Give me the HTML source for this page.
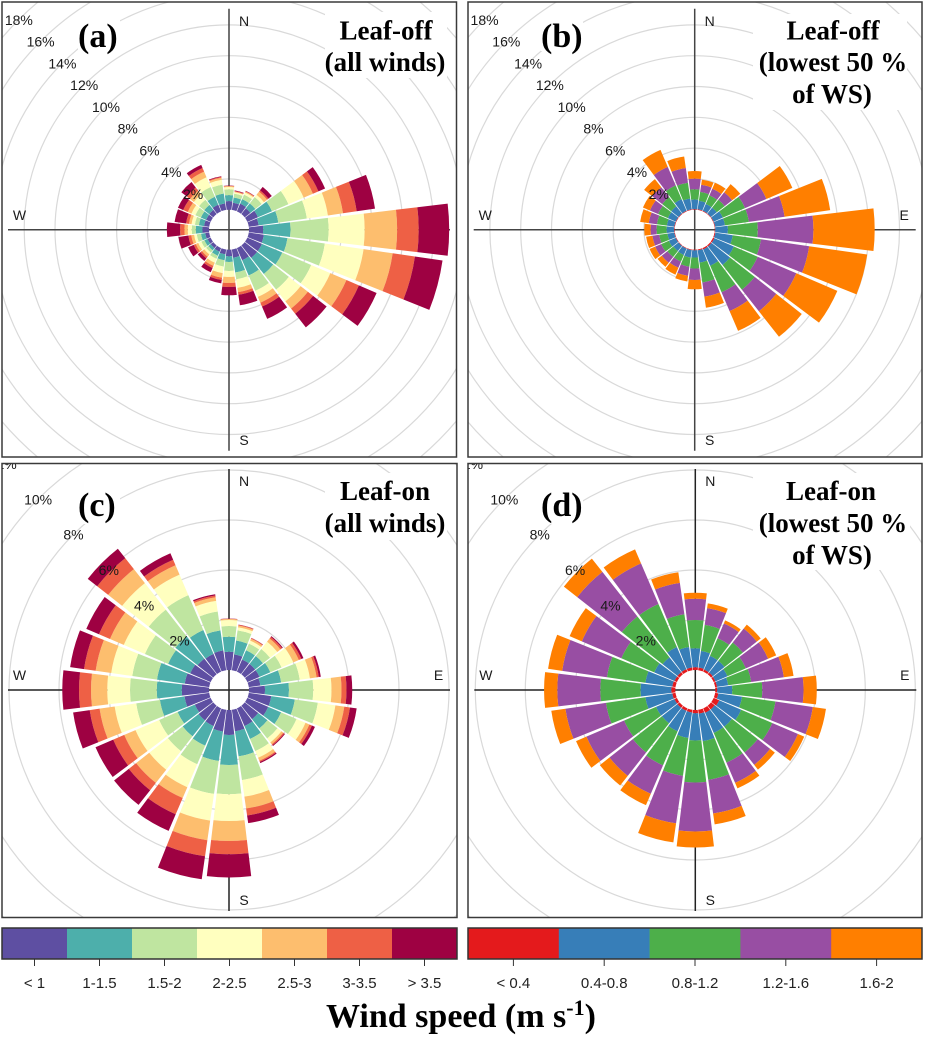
<!DOCTYPE html>
<html lang="en">
<head>
<meta charset="utf-8">
<title>Wind roses, leaf-off and leaf-on</title>
<style>
  html, body { margin: 0; padding: 0; background: #fff; }
  svg { display: block; filter: blur(0.3px); }
  .pct, .dir { font-family: "Liberation Sans", sans-serif; font-size: 14px; fill: #1a1a1a; }
  .title { font-family: "Liberation Serif", serif; font-weight: bold; font-size: 27px; fill: #000; text-anchor: middle; }
  .tag { font-family: "Liberation Serif", serif; font-weight: bold; font-size: 34px; fill: #000; }
  .legend-label { font-family: "Liberation Sans", sans-serif; font-size: 15px; fill: #222; text-anchor: middle; }
</style>
</head>
<body>
<svg id="figure" width="926" height="1037" viewBox="0 0 926 1037" xmlns="http://www.w3.org/2000/svg">
  <defs>
    <clipPath id="clip-a"><rect x="2" y="2" width="454.5" height="455"/></clipPath>
    <clipPath id="clip-b"><rect x="468" y="2" width="454" height="455"/></clipPath>
    <clipPath id="clip-c"><rect x="2" y="463.5" width="455" height="454"/></clipPath>
    <clipPath id="clip-d"><rect x="468" y="463.5" width="454" height="454"/></clipPath>
  </defs>
  <rect x="0" y="0" width="926" height="1037" fill="#fff"/>
  <g id="rings-layer"></g>
  <g id="masks-layer" fill="#fff">
    <rect x="78" y="15" width="42" height="36"/>
    <rect x="325" y="12" width="122" height="66"/>
    <rect x="541" y="15" width="42" height="36"/>
    <rect x="753" y="14" width="154" height="96"/>
    <rect x="78" y="486" width="42" height="38"/>
    <rect x="325" y="473" width="122" height="67"/>
    <rect x="541" y="486" width="42" height="38"/>
    <rect x="753" y="473" width="157" height="97"/>
  </g>
  <g id="plots-layer"></g>

  <g>
    <text class="tag" x="78" y="47">(a)</text>
    <text class="title" x="386" y="39.5">Leaf-off</text>
    <text class="title" x="385" y="71">(all winds)</text>
  </g>
  <g>
    <text class="tag" x="541" y="47">(b)</text>
    <text class="title" x="833" y="39.5">Leaf-off</text>
    <text class="title" x="833" y="71">(lowest 50 %</text>
    <text class="title" x="832" y="103">of WS)</text>
  </g>
  <g>
    <text class="tag" x="78" y="516">(c)</text>
    <text class="title" x="385" y="500">Leaf-on</text>
    <text class="title" x="385" y="532">(all winds)</text>
  </g>
  <g>
    <text class="tag" x="541" y="516">(d)</text>
    <text class="title" x="831" y="500">Leaf-on</text>
    <text class="title" x="833" y="532">(lowest 50 %</text>
    <text class="title" x="832" y="564">of WS)</text>
  </g>

  <g fill="none" stroke="#3a3a3a" stroke-width="1.5">
    <rect x="2" y="2" width="454.5" height="455"/>
    <rect x="468" y="2" width="454" height="455"/>
    <rect x="2" y="463.5" width="455" height="454"/>
    <rect x="468" y="463.5" width="454" height="454"/>
  </g>

  <g id="legend-layer"></g>

  <text x="461" y="1027" text-anchor="middle" font-family="'Liberation Serif', serif" font-weight="bold" font-size="34" fill="#000">Wind speed (m s<tspan dy="-12" font-size="22">-1</tspan><tspan dy="12">)</tspan></text>
</svg>

<script>
// Wind directions in degrees clockwise from north
const directions = [0,15,30,45,60,75,90,105,120,135,150,165,180,195,210,225,240,255,270,285,300,315,330,345];

// Speed classes
const allWindClasses = ['< 1','1-1.5','1.5-2','2-2.5','2.5-3','3-3.5','> 3.5'];
const lowWindClasses = ['< 0.4','0.4-0.8','0.8-1.2','1.2-1.6','1.6-2'];

// Radial tick labels (percent)
const leafOffPercentTicks = [2,4,6,8,10,12,14,16,18];
const leafOnPercentTicks = [2,4,6,8,10,12];

// Frequency (%) per direction (rows follow `directions`), per speed class (columns)
const panelAFrequencies = [
  [.56,.39,.37,.15,.06,.02,.02],
  [.47,.34,.26,.09,.04,.04,.04],
  [.54,.32,.32,.15,.06,.04,.02],
  [.47,.41,.52,.19,.26,.11,.28],
  [.75,.99,1.16,1.08,.65,.39,.47],
  [.65,1.29,1.87,1.38,.99,.90,1.20],
  [.92,1.78,2.47,2.34,2.11,1.40,1.98],
  [.99,1.55,2.45,2.54,1.91,1.46,1.81],
  [1.03,1.44,2.04,1.35,1.14,.88,1.25],
  [1.03,1.33,1.29,.97,.60,.43,1.12],
  [.86,1.08,1.08,.43,.41,.28,.86],
  [.54,.97,.45,.56,.28,.17,.69],
  [.43,.37,.58,.39,.39,.26,.54],
  [.32,.39,.41,.43,.30,.15,.22],
  [.26,.28,.22,.28,.22,.15,.30],
  [.22,.19,.19,.15,.19,.13,.22],
  [.22,.22,.22,.22,.17,.15,.39],
  [.26,.28,.28,.17,.19,.19,.65],
  [.43,.43,.26,.26,.22,.28,.86],
  [.34,.34,.26,.22,.17,.19,.75],
  [.32,.37,.39,.28,.26,.32,.37],
  [.34,.41,.43,.43,.32,.26,.45],
  [.47,.56,.69,.69,.39,.26,.22],
  [.43,.65,.58,.32,.13,.06,.04]
];
const panelBFrequencies = [
  [.04,.62,.67,.69,.49],
  [.04,.56,.58,.47,.34],
  [.04,.49,.60,.47,.43],
  [.04,.49,.65,.62,.67],
  [.04,.65,1.57,1.51,1.83],
  [.04,.65,1.57,2.34,2.99],
  [.04,.82,1.94,3.61,3.98],
  [.06,1.14,1.85,3.16,3.81],
  [.09,1.38,1.68,2.73,2.90],
  [.09,1.53,2.04,1.78,2.11],
  [.09,1.16,1.87,1.33,1.40],
  [.06,.80,1.31,.92,.73],
  [.04,.47,.71,.75,.60],
  [.04,.49,.60,.60,.37],
  [.04,.45,.47,.43,.49],
  [.04,.43,.49,.47,.34],
  [.04,.49,.54,.43,.39],
  [.04,.45,.54,.45,.41],
  [.04,.49,.65,.39,.41],
  [.04,.49,.65,.54,.56],
  [.04,.56,.69,.58,.49],
  [.04,.60,.75,.82,.67],
  [.04,.82,.97,1.31,1.20],
  [.04,.71,1.03,.97,.75]
];
const panelCFrequencies = [
  [.73,.60,.43,.24,.04,.01,.01],
  [.64,.56,.41,.12,.07,.03,.01],
  [.53,.40,.29,.13,.08,.03,.01],
  [.53,.40,.36,.37,.16,.08,.04],
  [.53,.47,.49,.51,.24,.11,.09],
  [.47,.84,.75,.41,.27,.09,.08],
  [.64,.96,.97,.73,.40,.20,.23],
  [.91,.95,.93,.71,.36,.23,.27],
  [.91,.56,.67,.39,.17,.11,.13],
  [.69,.47,.51,.20,.09,.05,.04],
  [.77,.56,.53,.29,.13,.05,.05],
  [.87,1.01,.96,.67,.48,.28,.31],
  [1.00,1.20,1.17,1.07,.80,.53,.93],
  [.88,1.19,1.33,1.08,.79,.65,.93],
  [.77,.85,.81,1.00,.47,.71,.72],
  [.75,.81,.75,.95,.67,.37,.75],
  [.69,.75,.80,1.03,.49,.48,.77],
  [1.00,.99,.96,.87,.61,.40,.67],
  [1.09,1.00,1.07,.91,.65,.48,.67],
  [.99,1.12,1.00,.85,.63,.47,.56],
  [.89,.96,1.01,.92,.60,.48,.55],
  [.80,1.13,1.36,1.35,.71,.56,.48],
  [.77,1.04,1.52,.89,.41,.24,.28],
  [.80,.81,.76,.43,.15,.07,.05]
];
const panelDFrequencies = [
  [.11,.76,1.13,.85,.24],
  [.11,.67,1.05,.68,.19],
  [.09,.60,.77,.64,.13],
  [.09,.60,.93,.71,.20],
  [.08,.52,.80,.97,.35],
  [.08,.45,.93,1.32,.39],
  [.08,.60,1.20,1.65,.53],
  [.13,.96,1.35,1.51,.53],
  [.24,.96,1.35,1.12,.27],
  [.19,.88,1.31,.63,.24],
  [.19,.88,1.29,.88,.24],
  [.16,1.11,1.56,1.36,.44],
  [.13,1.09,1.68,1.96,.64],
  [.11,1.03,1.53,1.92,.77],
  [.11,.89,1.48,1.24,.49],
  [.11,.79,1.48,1.19,.49],
  [.11,.80,1.39,1.64,.45],
  [.13,1.09,1.59,1.64,.57],
  [.16,1.23,1.61,1.72,.53],
  [.13,1.09,1.55,1.81,.57],
  [.11,.88,1.43,1.72,.53],
  [.11,.76,2.07,2.27,.68],
  [.11,.96,1.87,1.77,.61],
  [.11,.83,1.32,1.27,.43]
];

const spectralPalette = ['#5E4FA2','#4DAFAB','#BFE5A0','#FFFFBF','#FDBE6E','#EE6045','#9E0142'];
const set1Palette = ['#E41A1C','#377EB8','#4DAF4A','#984EA3','#FF7F00'];
const compassLabels = ['N','E','S','W'];

const SVG_NS = 'http://www.w3.org/2000/svg';
const HOLE_RADIUS = 20;
const AXIS_LENGTH = 221;
const WEDGE_HALF_ANGLE = 6.8;
const TEXT_OPTICAL_SHIFT = 1.5;

function el(tag, attrs, parent) {
  const node = document.createElementNS(SVG_NS, tag);
  for (const key in attrs) node.setAttribute(key, attrs[key]);
  parent.appendChild(node);
  return node;
}

function polar(panel, deg, r) {
  const t = deg * Math.PI / 180;
  return [panel.cx + r * Math.sin(t), panel.cy - r * Math.cos(t)];
}

function radius(panel, percent) {
  return HOLE_RADIUS + percent * panel.pxPerPercent;
}

function sectorPath(panel, deg, r0, r1) {
  const a0 = deg - WEDGE_HALF_ANGLE;
  const a1 = deg + WEDGE_HALF_ANGLE;
  const p1 = polar(panel, a0, r0);
  const p2 = polar(panel, a0, r1);
  const p3 = polar(panel, a1, r1);
  const p4 = polar(panel, a1, r0);
  return 'M' + p1[0].toFixed(2) + ' ' + p1[1].toFixed(2) +
    'L' + p2[0].toFixed(2) + ' ' + p2[1].toFixed(2) +
    'A' + r1.toFixed(2) + ' ' + r1.toFixed(2) + ' 0 0 1 ' + p3[0].toFixed(2) + ' ' + p3[1].toFixed(2) +
    'L' + p4[0].toFixed(2) + ' ' + p4[1].toFixed(2) +
    'A' + r0.toFixed(2) + ' ' + r0.toFixed(2) + ' 0 0 0 ' + p1[0].toFixed(2) + ' ' + p1[1].toFixed(2) + 'Z';
}

function drawRings(panel, layer) {
  const group = el('g', { 'clip-path': 'url(#clip-' + panel.id + ')', fill: 'none', stroke: '#d9d9d9', 'stroke-width': 1.2 }, layer);
  
  
  panel.ticks.forEach(function (tick) {
    const ring = el('circle', { cx: panel.cx, cy: panel.cy, r: radius(panel, tick) }, group);
    
    
  });
}

function drawPanel(panel, layer) {
  const group = el('g', { 'clip-path': 'url(#clip-' + panel.id + ')' }, layer);
  
  

  // Axes
  const horizontal = el('line', { x1: panel.cx - AXIS_LENGTH, x2: panel.cx + AXIS_LENGTH, y1: panel.cy, y2: panel.cy, stroke: panel.axisColor, 'stroke-width': 1.5 }, group);
  
  
  const vertical = el('line', { x1: panel.cx, x2: panel.cx, y1: panel.cy - AXIS_LENGTH, y2: panel.cy + AXIS_LENGTH, stroke: panel.axisColor, 'stroke-width': 1.5 }, group);
  
  

  // Compass letters sit below the wedges
  compassLabels.forEach(function (letter) {
    const offsetX = letter === 'E' ? 209.5 : letter === 'W' ? -209.5 : 15;
    const offsetY = letter === 'N' ? -209 : letter === 'S' ? 210 : -15;
    const label = el('text', { class: 'dir', x: panel.cx + offsetX, y: panel.cy + offsetY + TEXT_OPTICAL_SHIFT, 'text-anchor': 'middle', 'dominant-baseline': 'middle' }, group);
    label.textContent = letter;
    
    
  });

  // Wedges, stacked outward by speed class
  directions.forEach(function (deg, i) {
    let cumulative = 0;
    panel.frequencies[i].forEach(function (value, classIndex) {
      const r0 = radius(panel, cumulative);
      cumulative += value;
      const r1 = radius(panel, cumulative);
      const wedge = el('path', { d: sectorPath(panel, deg, r0, r1), fill: panel.palette[classIndex] }, group);
      
      
    });
  });

  // Percent tick labels along the north-west diagonal
  panel.ticks.forEach(function (tick) {
    const p = polar(panel, 315, radius(panel, tick));
    const label = el('text', { class: 'pct', x: p[0], y: p[1] + TEXT_OPTICAL_SHIFT, 'text-anchor': 'middle', 'dominant-baseline': 'middle' }, group);
    label.textContent = tick + '%';
    
    
  });
}

function drawLegend(classes, palette, x0, x1, layer, prefix) {
  const top = 928;
  const height = 31;
  const step = (x1 - x0) / classes.length;
  const group = el('g', {}, layer);
  
  
  classes.forEach(function (name, i) {
    const swatch = el('rect', { x: x0 + i * step, y: top, width: step + 0.3, height: height, fill: palette[i] }, group);
    
    
    const centre = x0 + (i + 0.5) * step;
    const tick = el('line', { x1: centre, x2: centre, y1: top + height, y2: top + height + 7, stroke: '#333', 'stroke-width': 1 }, group);
    
    
    const label = el('text', { class: 'legend-label', x: centre, y: 988 }, group);
    label.textContent = name;
    
    
  });
  const frame = el('rect', { x: x0, y: top, width: x1 - x0, height: height, fill: 'none', stroke: '#333', 'stroke-width': 1.5 }, group);
  
  
}

const panels = [
  { id: 'a', cx: 229, cy: 229.7, pxPerPercent: 15.4, frequencies: panelAFrequencies, palette: spectralPalette, ticks: leafOffPercentTicks, axisColor: '#444' },
  { id: 'b', cx: 694.7, cy: 229.7, pxPerPercent: 15.4, frequencies: panelBFrequencies, palette: set1Palette, ticks: leafOffPercentTicks, axisColor: '#444' },
  { id: 'c', cx: 229, cy: 690, pxPerPercent: 25, frequencies: panelCFrequencies, palette: spectralPalette, ticks: leafOnPercentTicks, axisColor: '#222' },
  { id: 'd', cx: 695.3, cy: 690, pxPerPercent: 25, frequencies: panelDFrequencies, palette: set1Palette, ticks: leafOnPercentTicks, axisColor: '#222' }
];

const ringsLayer = document.getElementById('rings-layer');
const plotsLayer = document.getElementById('plots-layer');
const legendLayer = document.getElementById('legend-layer');

panels.forEach(function (panel) {
  drawRings(panel, ringsLayer);
  drawPanel(panel, plotsLayer);
});

drawLegend(allWindClasses, spectralPalette, 2, 457, legendLayer, 'all-winds');
drawLegend(lowWindClasses, set1Palette, 468, 922, legendLayer, 'lowest-winds');
</script>
</body>
</html>
